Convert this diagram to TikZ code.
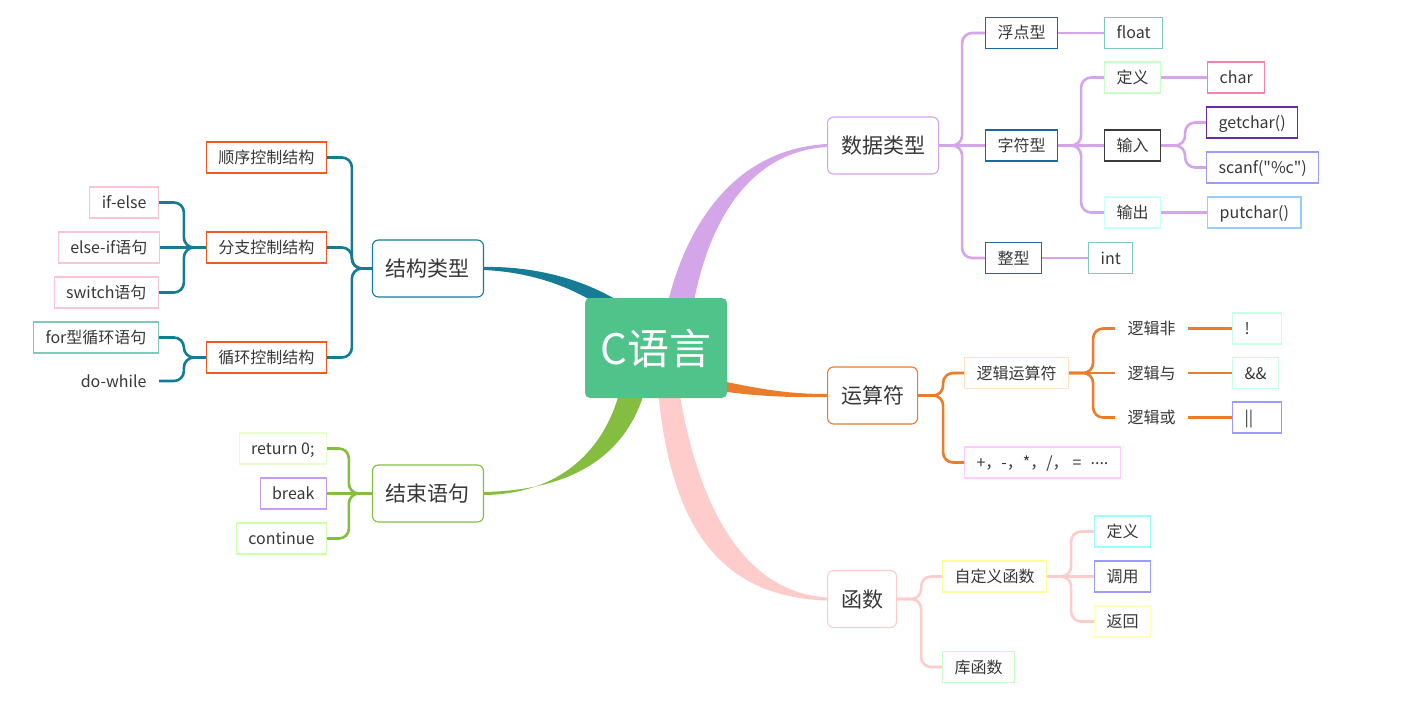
\documentclass[tikz,border=0pt]{standalone}
\usepackage{fontspec}
\setmainfont{Noto Sans CJK SC}
\newfontfamily\cjk{Noto Sans CJK SC}
\usepackage{xcolor}
\usepackage{tikz}
\usetikzlibrary{positioning, calc, backgrounds}

\definecolor{rootgreen}{HTML}{50C38A}
\definecolor{textgray}{HTML}{383838}
\definecolor{cdata}{HTML}{D4A5E8}
\definecolor{cops}{HTML}{E97D2B}
\definecolor{cfunc}{HTML}{FFCCCC}
\definecolor{cstruct}{HTML}{167C96}
\definecolor{cend}{HTML}{85BD41}
\definecolor{bdblue}{HTML}{1A6A9E}
\definecolor{bdteal}{HTML}{7FCBB9}
\definecolor{bdmint}{HTML}{C8FFC8}
\definecolor{bdpink}{HTML}{F583A6}
\definecolor{bddark}{HTML}{3C3C3C}
\definecolor{bdcyan}{HTML}{C8FFFF}
\definecolor{bdviolet}{HTML}{6A2C9C}
\definecolor{bdperi}{HTML}{9C9CFF}
\definecolor{bdsky}{HTML}{99CCFF}
\definecolor{bdpeach}{HTML}{FFE2C6}
\definecolor{bdmagenta}{HTML}{FFCCFF}
\definecolor{bdmintb}{HTML}{C8FFE6}
\definecolor{bdaqua}{HTML}{99FFFF}
\definecolor{bdyellow}{HTML}{FFFF99}
\definecolor{bdcream}{HTML}{FFFFBB}
\definecolor{bdred}{HTML}{F05A22}
\definecolor{bdrose}{HTML}{F7C6D6}
\definecolor{bdlime}{HTML}{E6FFCC}
\definecolor{bdlilac}{HTML}{C89BF5}
\definecolor{bdlimeb}{HTML}{CFFFA8}

\begin{document}
\begin{tikzpicture}[
  x=1pt, y=-1pt,
  root/.style={fill=rootgreen, rounded corners=5pt, text=white, minimum width=142pt,
    minimum height=100pt, inner sep=0pt, font=\cjk\fontsize{42pt}{50pt}\selectfont,
    text height=37pt, text depth=5pt},
  topic/.style={draw, rounded corners=6pt, fill=white, line width=1.1pt, minimum height=57pt,
    inner xsep=13.5pt, inner ysep=0pt, text=textgray, font=\cjk\fontsize{21pt}{25pt}\selectfont,
    text height=18.5pt, text depth=2.5pt},
  leaf/.style={draw, fill=white, line width=1.1pt, minimum height=31pt, inner xsep=12pt,
    inner ysep=0pt, text=textgray, font=\cjk\fontsize{16pt}{19pt}\selectfont,
    text height=14pt, text depth=2pt},
  bare/.style={leaf, draw=none},
  link/.style={line width=2.6pt, rounded corners=10pt}
]
\useasboundingbox (0,0) rectangle (1408,701);

\node[root] (root) at (656,348) {C语言};

\node[topic, draw=cdata, anchor=west] (data) at (827,145.5) {数据类型};
\node[topic, draw=cops, anchor=west] (ops) at (827,395.5) {运算符};
\node[topic, draw=cfunc, anchor=west] (func) at (827,599) {函数};
\node[topic, draw=cstruct, anchor=east] (struct) at (484,268.5) {结构类型};
\node[topic, draw=cend, anchor=east] (endst) at (484,493.5) {结束语句};

% 数据类型
\node[leaf, draw=bdblue, anchor=west] (tfloat) at (985,33) {浮点型};
\node[leaf, draw=bdblue, anchor=west] (tchar) at (985,145.5) {字符型};
\node[leaf, draw=bdblue, anchor=west] (tint) at (985,258) {整型};
\node[leaf, draw=bdteal, right=46pt of tfloat] (kfloat) {float};
\node[leaf, draw=bdmint, anchor=west] (cdef) at (1104,77.5) {定义};
\node[leaf, draw=bddark, anchor=west] (cin) at (1104,145.5) {输入};
\node[leaf, draw=bdcyan, anchor=west] (cout) at (1104,212.5) {输出};
\node[leaf, draw=bdteal, right=46pt of tint] (kint) {int};
\node[leaf, draw=bdpink, right=46pt of cdef] (kchar) {char};
\node[leaf, draw=bdviolet, anchor=west] (kget) at (1206,122.5) {getchar()};
\node[leaf, draw=bdperi, anchor=west] (kscan) at (1206,167.5) {scanf("\%c")};
\node[leaf, draw=bdsky, right=46pt of cout] (kput) {putchar()};

% 运算符
\node[leaf, draw=bdpeach, anchor=west] (logic) at (964,373) {逻辑运算符};
\node[leaf, draw=bdmagenta, anchor=west] (arith) at (964,462.5)
  {+，-，*，/，\hspace{4pt}=\hspace{9pt}\raisebox{0.28em}{....}};
\node[bare, anchor=west] (lnot) at (1115,328.5) {逻辑非};
\node[bare, anchor=west] (land) at (1115,373) {逻辑与};
\node[bare, anchor=west] (lor) at (1115,417.5) {逻辑或};
\node[leaf, draw=bdmintb, right=44pt of lnot, text width=25pt] (knot) {!};
\node[leaf, draw=bdmintb, right=44pt of land] (kand) {\&\&};
\node[leaf, draw=bdperi, right=44pt of lor, text width=25pt] (kor) {||};

% 函数
\node[leaf, draw=bdyellow, anchor=west] (udef) at (942,576.5) {自定义函数};
\node[leaf, draw=bdmint, anchor=west] (lib) at (942,667) {库函数};
\node[leaf, draw=bdaqua, anchor=west] (fdef) at (1094,531.5) {定义};
\node[leaf, draw=bdperi, anchor=west] (fcall) at (1094,576.5) {调用};
\node[leaf, draw=bdcream, anchor=west] (fret) at (1094,621.5) {返回};

% 结构类型
\node[leaf, draw=bdred, anchor=east] (seq) at (327,157.5) {顺序控制结构};
\node[leaf, draw=bdred, anchor=east] (branch) at (327,247.5) {分支控制结构};
\node[leaf, draw=bdred, anchor=east] (loop) at (327,357.5) {循环控制结构};
\node[leaf, draw=bdrose, anchor=east] (ifelse) at (159,202.5) {if-else};
\node[leaf, draw=bdrose, left=46pt of branch] (elseif) {else-if语句};
\node[leaf, draw=bdrose, anchor=east] (switch) at (159,292.5) {switch语句};
\node[leaf, draw=bdteal, anchor=east] (forloop) at (159,337.5) {for型循环语句};
\node[bare, anchor=east] (dowhile) at (159,381) {do-while};

% 结束语句
\node[leaf, draw=bdlime, anchor=east] (ret) at (327,448.5) {return 0;};
\node[leaf, draw=bdlilac, anchor=east] (brk) at (327,493.5) {break};
\node[leaf, draw=bdlimeb, anchor=east] (cont) at (327,538.5) {continue};

% tapered main branches
\begin{scope}[on background layer]
\fill[white] (0,0) rectangle (1408,701);
\fill[cdata] ($(root.center)+(4,-3)$) .. controls (672,250) and (720,150) .. ([yshift=1.5pt]data.west)
  -- ([yshift=-1.5pt]data.west) .. controls (740,152) and (697,240) .. ($(root.center)+(32,-3)$) -- cycle;
\fill[cstruct] ([yshift=1.5pt]struct.east) .. controls (540,266) and (600,282) .. ($(root.center)+(-11,-28)$)
  -- ($(root.center)+(-26,-18)$) .. controls (600,300) and (550,273) .. ([yshift=-1.5pt]struct.east) -- cycle;
\fill[cops] ($(root.center)+(44,28)$) .. controls (760,390) and (790,394) .. ([yshift=1.5pt]ops.west)
  -- ([yshift=-1.5pt]ops.west) .. controls (790,397.5) and (755,397) .. ($(root.center)+(44,40)$) -- cycle;
\fill[cend] ([yshift=-1.5pt]endst.east) .. controls (560,494) and (605,450) .. ($(root.center)+(-36,42)$)
  -- ($(root.center)+(-11,42)$) .. controls (628,450) and (580,490) .. ([yshift=1.5pt]endst.east) -- cycle;
\fill[cfunc] ($(root.center)+(2,42)$) .. controls (670,520) and (715,597) .. ([yshift=-1.5pt]func.west)
  -- ([yshift=1.5pt]func.west) .. controls (740,592) and (697,500) .. ($(root.center)+(23,42)$) -- cycle;
\end{scope}

\draw[link, cdata] (data.east) -- ++(23,0) |- (tfloat.west);
\draw[link, cdata] (data) -- (tchar);
\draw[link, cdata] (data.east) -- ++(23,0) |- (tint.west);
\draw[link, cdata] (tfloat) -- (kfloat);
\draw[link, cdata] (tchar.east) -- ++(23,0) |- (cdef.west);
\draw[link, cdata] (tchar) -- (cin);
\draw[link, cdata] (tchar.east) -- ++(23,0) |- (cout.west);
\draw[link, cdata] (tint) -- (kint);
\draw[link, cdata] (cdef) -- (kchar);
\draw[link, cdata] (cin.east) -- ++(24,0) |- (kget.west);
\draw[link, cdata] (cin.east) -- ++(24,0) |- (kscan.west);
\draw[link, cdata] (cout) -- (kput);

\draw[link, cops] (ops.east) -- ++(25,0) |- (logic.west);
\draw[link, cops] (ops.east) -- ++(25,0) |- (arith.west);
\draw[link, cops] (logic.east) -- ++(24,0) |- (lnot.west);
\draw[link, cops] (logic) -- (land);
\draw[link, cops] (logic.east) -- ++(24,0) |- (lor.west);
\draw[link, cops] (lnot) -- (knot);
\draw[link, cops] (land) -- (kand);
\draw[link, cops] (lor) -- (kor);

\draw[link, cfunc] (func.east) -- ++(24,0) |- (udef.west);
\draw[link, cfunc] (func.east) -- ++(24,0) |- (lib.west);
\draw[link, cfunc] (udef.east) -- ++(24,0) |- (fdef.west);
\draw[link, cfunc] (udef) -- (fcall);
\draw[link, cfunc] (udef.east) -- ++(24,0) |- (fret.west);

\draw[link, cstruct] (struct.west) -- ++(-20,0) |- (seq.east);
\draw[link, cstruct] (struct.west) -- ++(-20,0) |- (branch.east);
\draw[link, cstruct] (struct.west) -- ++(-20,0) |- (loop.east);
\draw[link, cstruct] (branch.west) -- ++(-22,0) |- (ifelse.east);
\draw[link, cstruct] (branch) -- (elseif);
\draw[link, cstruct] (branch.west) -- ++(-22,0) |- (switch.east);
\draw[link, cstruct] (loop.west) -- ++(-22,0) |- (forloop.east);
\draw[link, cstruct] (loop.west) -- ++(-22,0) |- (dowhile.east);

\draw[link, cend] (endst.west) -- ++(-23,0) |- (ret.east);
\draw[link, cend] (endst) -- (brk);
\draw[link, cend] (endst.west) -- ++(-23,0) |- (cont.east);
\end{tikzpicture}
\end{document}
